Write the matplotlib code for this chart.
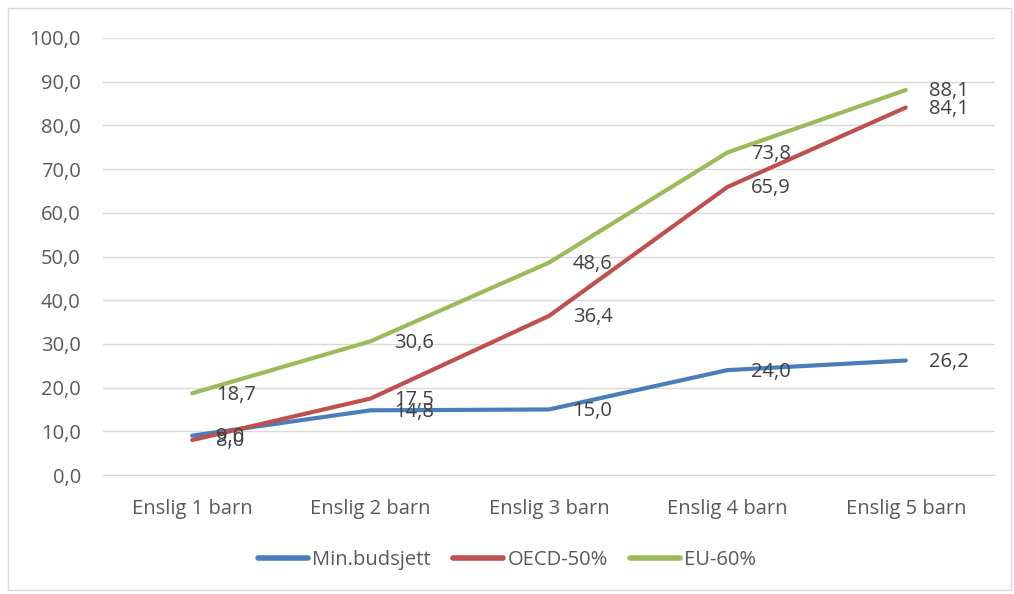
import matplotlib
matplotlib.use("Agg")
import matplotlib.pyplot as plt
from matplotlib.patches import Rectangle

categories = ["Enslig 1 barn", "Enslig 2 barn", "Enslig 3 barn", "Enslig 4 barn", "Enslig 5 barn"]
min_budsjett = [9.0, 14.8, 15.0, 24.0, 26.2]
oecd_50 = [8.0, 17.5, 36.4, 65.9, 84.1]
eu_60 = [18.7, 30.6, 48.6, 73.8, 88.1]
series_names = ["Min.budsjett", "OECD-50%", "EU-60%"]
yticks = [0, 10, 20, 30, 40, 50, 60, 70, 80, 90, 100]

colors = ["#4A7EBB", "#C0504D", "#9BBB59"]
txt = "#404040"
plt.rcParams['font.family'] = ['Open Sans', 'DejaVu Sans']
fs = 14.5

fig = plt.figure(figsize=(10.14, 5.94), dpi=100)
ax = fig.add_axes([103/1014, 1-475/594, (995-103)/1014, (475-38)/594])

x = list(range(len(categories)))
for vals, name, c in zip([min_budsjett, oecd_50, eu_60], series_names, colors):
    ax.plot(x, vals, color=c, lw=3, label=name, solid_capstyle='round', solid_joinstyle='round')
    for xi, v in zip(x, vals):
        ax.annotate(f"{v:.1f}".replace('.', ','), (xi, v), xytext=(17, -1),
                    textcoords='offset points', ha='left', va='center',
                    fontsize=fs, color=txt)

ax.set_xlim(-0.5, 4.5)
ax.set_ylim(0, 100)
ax.set_yticks(yticks)
ax.set_yticklabels([f"{t:.1f}".replace('.', ',') for t in yticks])
ax.set_xticks(x)
ax.set_xticklabels(categories)
ax.tick_params(axis='both', length=0, labelsize=fs, labelcolor="#595959")
ax.tick_params(axis='y', pad=16)
ax.tick_params(axis='x', pad=17)
ax.grid(axis='y', color="#D9D9D9", lw=1)
ax.set_axisbelow(True)
for s in ['top', 'right', 'left']:
    ax.spines[s].set_visible(False)
ax.spines['bottom'].set_color("#D9D9D9")

leg = fig.legend(loc='center', bbox_to_anchor=(0.5, 1-560/594), ncol=3, frameon=False,
                 fontsize=fs, handlelength=2.5, handletextpad=0.2, columnspacing=1.1)
for t in leg.get_texts():
    t.set_color("#595959")
for h in leg.legend_handles:
    h.set_solid_capstyle('round')
    h.set_linewidth(4)

fig.patches.append(Rectangle((8/1014, 4/594), 1003/1014, 582/594, transform=fig.transFigure,
                             fill=False, edgecolor="#D9D9D9", lw=1))
fig.savefig("out.png", dpi=100)
